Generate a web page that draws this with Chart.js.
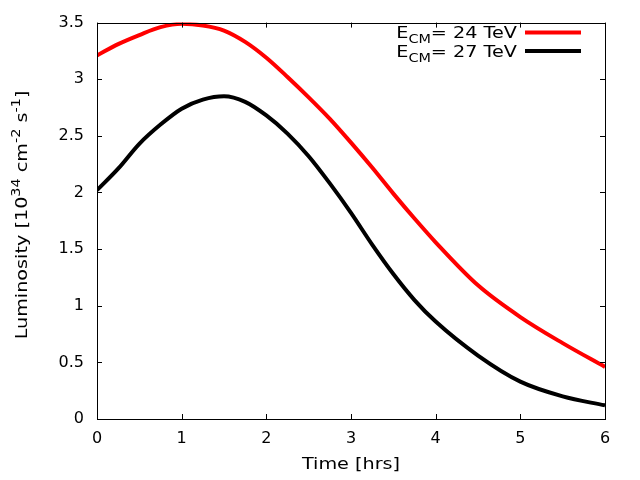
<!DOCTYPE html>
<html>
<head>
<meta charset="utf-8">
<script src="https://cdn.jsdelivr.net/npm/chart.js@4/dist/chart.umd.min.js"></script>
<style>
  html, body { margin: 0; padding: 0; background: #fff; }
  #wrap { width: 640px; height: 480px; }
</style>
</head>
<body>
<div id="wrap"><canvas id="lumi" width="640" height="480"></canvas></div>
<script>
// data
const hours = [0, 0.25, 0.5, 0.75, 1, 1.25, 1.5, 1.75, 2, 2.25, 2.5, 2.75, 3, 3.25, 3.5, 3.75, 4, 4.5, 5, 5.5, 6];
const lumi24 = [3.21, 3.31, 3.39, 3.46, 3.49, 3.475, 3.43, 3.33, 3.19, 3.02, 2.84, 2.65, 2.44, 2.22, 1.99, 1.77, 1.56, 1.18, 0.90, 0.67, 0.46];
const lumi27 = [2.02, 2.21, 2.43, 2.60, 2.74, 2.82, 2.85, 2.80, 2.68, 2.52, 2.32, 2.08, 1.82, 1.54, 1.28, 1.05, 0.86, 0.56, 0.33, 0.20, 0.12];
const xTicks = [0, 1, 2, 3, 4, 5, 6];
const yTicks = [0, 0.5, 1, 1.5, 2, 2.5, 3, 3.5];
const seriesNames = ['24 TeV', '27 TeV'];
const seriesColors = ['#ff0000', '#000000'];

const FONT = 'DejaVu Sans';
const BIG = '16px "' + FONT + '"';
const SMALL = '12px "' + FONT + '"';
const WIDEN = 1.2; // the original font runs wider than DejaVu

function pts(ys) {
  return hours.map((h, i) => ({ x: h, y: ys[i] }));
}

// pieces are [text, vertical shift, small?]
function drawPieces(ctx, pieces, x, y) {
  pieces.forEach(p => {
    ctx.font = p[2] ? SMALL : BIG;
    ctx.fillText(p[0], x, y + p[1]);
    x += ctx.measureText(p[0]).width;
  });
}
function piecesWidth(ctx, pieces) {
  let w = 0;
  pieces.forEach(p => { ctx.font = p[2] ? SMALL : BIG; w += ctx.measureText(p[0]).width; });
  return w;
}
// draw stretched text; anchor 'center' or 'right' at (x, y) baseline
function drawWide(ctx, pieces, x, y, anchor) {
  const w = piecesWidth(ctx, pieces) * WIDEN;
  ctx.save();
  ctx.translate(anchor === 'right' ? x - w : x - w / 2, y);
  ctx.scale(WIDEN, 1);
  drawPieces(ctx, pieces, 0, 0);
  ctx.restore();
}

// frame, inward ticks on all four sides, axis titles and legend
const gnuDecor = {
  id: 'gnuDecor',
  afterDatasetsDraw(chart) {
    const ctx = chart.ctx;
    const a = chart.chartArea;
    const xs = chart.scales.x, ys = chart.scales.y;
    ctx.save();
    ctx.strokeStyle = '#000';
    ctx.lineWidth = 1;
    ctx.beginPath();
    xTicks.forEach(v => {
      const px = Math.round(xs.getPixelForValue(v)) + 0.5;
      ctx.moveTo(px, a.bottom); ctx.lineTo(px, a.bottom - 5);
      ctx.moveTo(px, a.top); ctx.lineTo(px, a.top + 5);
    });
    yTicks.forEach(v => {
      const py = Math.round(ys.getPixelForValue(v)) + 0.5;
      ctx.moveTo(a.left, py); ctx.lineTo(a.left + 5, py);
      ctx.moveTo(a.right, py); ctx.lineTo(a.right - 5, py);
    });
    ctx.stroke();
    ctx.strokeRect(Math.round(a.left) + 0.5, Math.round(a.top) + 0.5,
      Math.round(a.right - a.left), Math.round(a.bottom - a.top));

    ctx.fillStyle = '#000';
    ctx.textAlign = 'left';
    ctx.textBaseline = 'alphabetic';

    // x title
    drawWide(ctx, [['Time [hrs]', 0, false]], (a.left + a.right) / 2, 469, 'center');

    // y title with superscripts, rotated
    ctx.save();
    ctx.translate(27, 215);
    ctx.rotate(-Math.PI / 2);
    drawWide(ctx, [
      ['Luminosity [10', 0, false], ['34', -7, true], [' cm', 0, false], ['-2', -7, true],
      [' s', 0, false], ['-1', -7, true], [']', 0, false]
    ], 0, 0, 'center');
    ctx.restore();

    // legend
    const legendY = [32.5, 51];
    seriesNames.forEach((name, i) => {
      const y = legendY[i];
      drawWide(ctx, [['E', 0, false], ['CM', 5, true], ['= ' + name, 0, false]], 517, y + 5.5, 'right');
      ctx.strokeStyle = seriesColors[i];
      ctx.lineWidth = 4;
      ctx.beginPath();
      ctx.moveTo(525, y);
      ctx.lineTo(581, y);
      ctx.stroke();
    });
    ctx.restore();
  }
};

const canvas = document.getElementById('lumi');
const lumiChart = new Chart(canvas, {
  type: 'line',
  data: {
    datasets: [
      { label: seriesNames[0], data: pts(lumi24), borderColor: seriesColors[0] },
      { label: seriesNames[1], data: pts(lumi27), borderColor: seriesColors[1] }
    ]
  },
  options: {
    responsive: false,
    animation: false,
    devicePixelRatio: 1,
    layout: { padding: { top: 19, right: 35, left: 0, bottom: 0 } },
    elements: {
      line: { borderWidth: 4, cubicInterpolationMode: 'monotone', fill: false },
      point: { radius: 0 }
    },
    plugins: {
      legend: { display: false },
      tooltip: { enabled: false }
    },
    scales: {
      x: {
        type: 'linear',
        min: 0, max: 6,
        afterBuildTicks: s => { s.ticks = xTicks.map(v => ({ value: v })); },
        afterFit: s => { s.height = 61; },
        grid: { display: false, drawTicks: false },
        border: { display: false },
        ticks: { color: '#000', font: { family: FONT, size: 16 }, padding: 10, maxRotation: 0,
                 callback: v => String(v) }
      },
      y: {
        type: 'linear',
        min: 0, max: 3.5,
        afterBuildTicks: s => { s.ticks = yTicks.map(v => ({ value: v })); },
        afterFit: s => { s.width = 97; },
        grid: { display: false, drawTicks: false },
        border: { display: false },
        ticks: { color: '#000', font: { family: FONT, size: 16 }, padding: 13,
                 callback: v => String(v) }
      }
    }
  },
  plugins: [gnuDecor]
});
</script>
</body>
</html>
